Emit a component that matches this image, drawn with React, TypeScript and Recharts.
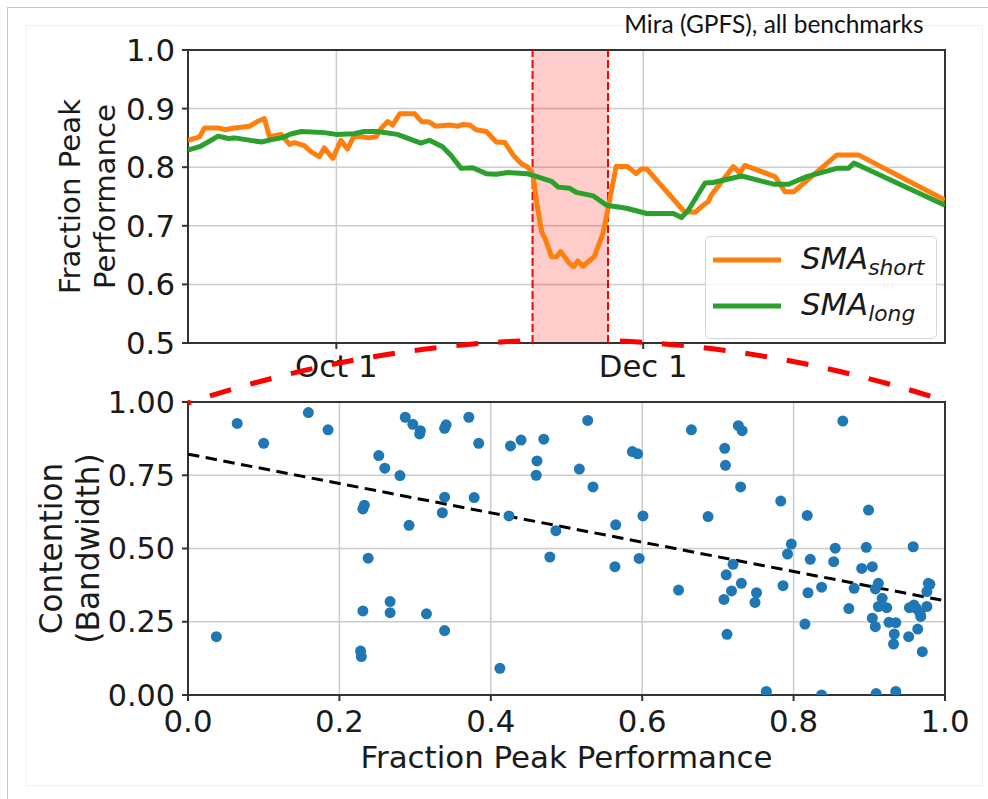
import React from 'react';
import {
  ComposedChart,
  Line,
  Scatter,
  XAxis,
  YAxis,
  CartesianGrid,
  ReferenceArea,
  ReferenceLine,
  Legend,
} from 'recharts';

// top panel: moving averages, x = days counted from Oct 1
const shortSeries: [number, number][] = [
  [-29.5, 0.846], [-28.2, 0.849], [-27.2, 0.852], [-26.2, 0.867], [-23.5, 0.867],
  [-22.2, 0.864], [-20.2, 0.867], [-17.2, 0.87], [-15.9, 0.877], [-14.3, 0.883],
  [-13.3, 0.852], [-11.0, 0.856], [-9.3, 0.839], [-8.3, 0.842], [-6.4, 0.837],
  [-5.0, 0.826], [-3.4, 0.818], [-2.4, 0.833], [-0.7, 0.815], [0.9, 0.846],
  [2.2, 0.831], [3.5, 0.853], [4.9, 0.852], [6.5, 0.85], [7.9, 0.852],
  [8.9, 0.866], [10.2, 0.878], [11.2, 0.872], [12.6, 0.891], [15.6, 0.891],
  [16.9, 0.878], [18.5, 0.877], [19.8, 0.87], [22.5, 0.872], [24.2, 0.87],
  [25.2, 0.873], [26.5, 0.872], [27.8, 0.864], [29.8, 0.861], [31.8, 0.843],
  [33.5, 0.842], [35.2, 0.82], [36.8, 0.806], [38.1, 0.8], [39.1, 0.786],
  [39.8, 0.741], [40.8, 0.69], [41.5, 0.678], [42.8, 0.647], [43.8, 0.647],
  [44.6, 0.656], [46.3, 0.636], [47.2, 0.63], [48.0, 0.64], [49.0, 0.631],
  [51.3, 0.648], [53.0, 0.687], [54.1, 0.733], [55.6, 0.801], [57.9, 0.801],
  [59.6, 0.789], [60.6, 0.797], [61.7, 0.797], [69.2, 0.724], [71.3, 0.723],
  [72.9, 0.735], [73.9, 0.741], [74.6, 0.753], [78.9, 0.801], [80.2, 0.79],
  [81.2, 0.803], [87.2, 0.784], [89.2, 0.758], [90.9, 0.758], [99.5, 0.821],
  [103.8, 0.821], [121, 0.744],
];

const longSeries: [number, number][] = [
  [-29.5, 0.829], [-27.2, 0.835], [-25.5, 0.843], [-23.5, 0.853], [-21.5, 0.849],
  [-20.2, 0.85], [-14.9, 0.843], [-12.9, 0.847], [-10.9, 0.85], [-8.9, 0.857],
  [-6.9, 0.861], [-2.4, 0.859], [-0.1, 0.856], [3.5, 0.857], [5.5, 0.861],
  [8.2, 0.861], [12.1, 0.856], [16.8, 0.841], [18.5, 0.846], [21.1, 0.835],
  [22.8, 0.82], [24.8, 0.798], [27.1, 0.799], [29.8, 0.789], [31.8, 0.788],
  [34.1, 0.791], [37.8, 0.789], [39.1, 0.786], [42.8, 0.776], [44.1, 0.766],
  [46.4, 0.764], [47.7, 0.757], [51.1, 0.751], [53.7, 0.735], [57.7, 0.73],
  [61.7, 0.721], [67.0, 0.721], [68.6, 0.714], [70.0, 0.727], [73.3, 0.773],
  [74.9, 0.774], [80.6, 0.785], [86.9, 0.771], [89.9, 0.771], [93.5, 0.784],
  [99.5, 0.798], [101.8, 0.798], [102.9, 0.807], [121, 0.735],
];

const dateTicks = [0, 61];
const dateLabels = ['Oct 1', 'Dec 1'];
const dayDomain: [number, number] = [-29.5, 121];
const perfTicks = [0.5, 0.6, 0.7, 0.8, 0.9, 1.0];
const anomaly = [39, 54];
const seriesSubs = ['short', 'long'];

// bottom panel: [fraction peak performance, contention]
const points: [number, number][] = [
  [0.065, 0.927], [0.1, 0.859], [0.159, 0.964], [0.185, 0.905], [0.0375, 0.199],
  [0.287, 0.948], [0.297, 0.924], [0.307, 0.902], [0.306, 0.891], [0.252, 0.817],
  [0.26, 0.774], [0.28, 0.749], [0.233, 0.648], [0.231, 0.635], [0.292, 0.579],
  [0.238, 0.467], [0.231, 0.287], [0.267, 0.319], [0.267, 0.281], [0.315, 0.277],
  [0.228, 0.15], [0.229, 0.131],
  [0.341, 0.922], [0.339, 0.91], [0.371, 0.948], [0.384, 0.859], [0.339, 0.675],
  [0.336, 0.622], [0.378, 0.674], [0.339, 0.22], [0.412, 0.091], [0.426, 0.85],
  [0.44, 0.87], [0.47, 0.873], [0.461, 0.799], [0.46, 0.75], [0.424, 0.611],
  [0.486, 0.561], [0.478, 0.471], [0.528, 0.937], [0.517, 0.771], [0.535, 0.71],
  [0.587, 0.831], [0.594, 0.823], [0.565, 0.581], [0.601, 0.611], [0.564, 0.438],
  [0.596, 0.466], [0.648, 0.358], [0.665, 0.905],
  [0.727, 0.919], [0.732, 0.902], [0.709, 0.842], [0.71, 0.784], [0.73, 0.71],
  [0.687, 0.609], [0.783, 0.662], [0.865, 0.935], [0.818, 0.613], [0.899, 0.631],
  [0.797, 0.515], [0.792, 0.481], [0.72, 0.446], [0.711, 0.41], [0.731, 0.381],
  [0.718, 0.355], [0.708, 0.326], [0.751, 0.349], [0.749, 0.316], [0.712, 0.207],
  [0.786, 0.373], [0.822, 0.463], [0.819, 0.349], [0.837, 0.368], [0.815, 0.242],
  [0.855, 0.501], [0.853, 0.455], [0.896, 0.504], [0.89, 0.432], [0.904, 0.438],
  [0.88, 0.364], [0.873, 0.295], [0.912, 0.381], [0.908, 0.362], [0.917, 0.33],
  [0.912, 0.302], [0.923, 0.298], [0.904, 0.262], [0.908, 0.233], [0.926, 0.248],
  [0.935, 0.247], [0.933, 0.208], [0.932, 0.174], [0.958, 0.506], [0.978, 0.381],
  [0.98, 0.378], [0.976, 0.353], [0.953, 0.298], [0.962, 0.296], [0.967, 0.279],
  [0.976, 0.302], [0.968, 0.268], [0.964, 0.225], [0.952, 0.199], [0.97, 0.148],
  [0.959, 0.307],
  [0.764, 0.012], [0.837, 0.0], [0.909, 0.005], [0.935, 0.012],
];

const fitX = [0, 0.995];
const fitY = [0.822, 0.324];
const fracTicks = [0, 0.2, 0.4, 0.6, 0.8, 1.0];
const contTicks = [0, 0.25, 0.5, 0.75, 1.0];

const ORANGE = '#ff7f0e';
const GREEN = '#2ca02c';
const BLUE = '#1f77b4';
const SPINE = '#333333';
const GRID = '#cccccc';
const INK = '#1a1a1a';
const FONT = 'DejaVu Sans';

const shortData = shortSeries.map(([day, v]) => ({ day, v }));
const longData = longSeries.map(([day, v]) => ({ day, v }));
const scatterData = points.map(([x, y]) => ({ x, y }));
const fitData = fitX.map((x, i) => ({ x, y: fitY[i] }));

const tickStyle = (size: number) => ({ fill: INK, fontSize: size, fontFamily: FONT });
const tickLine = { stroke: SPINE, strokeWidth: 2 };

function SideTitle({ viewBox, lines, xs, size }: any) {
  const cy = viewBox.y + viewBox.height / 2;
  return (
    <g>
      {lines.map((t: string, i: number) => (
        <text
          key={t}
          x={xs[i]}
          y={cy}
          transform={`rotate(-90 ${xs[i]} ${cy})`}
          textAnchor="middle"
          dominantBaseline="central"
          fill={INK}
          style={{ fontFamily: FONT, fontSize: size }}
        >
          {t}
        </text>
      ))}
    </g>
  );
}

function BottomTitle({ viewBox, text, dy, size }: any) {
  return (
    <text
      x={viewBox.x + viewBox.width / 2}
      y={viewBox.y + dy}
      textAnchor="middle"
      fill={INK}
      style={{ fontFamily: FONT, fontSize: size }}
    >
      {text}
    </text>
  );
}

function LegendBox() {
  const colors = [ORANGE, GREEN];
  return (
    <div
      style={{
        width: 232,
        height: 103,
        boxSizing: 'border-box',
        border: '1.5px solid #d6d6d6',
        borderRadius: 5,
        background: 'rgba(255,255,255,0.8)',
      }}
    >
      <svg width={230} height={100} style={{ display: 'block' }}>
        {seriesSubs.map((sub, i) => (
          <g key={sub}>
            <line x1={7} x2={75} y1={23 + i * 46} y2={23 + i * 46} stroke={colors[i]} strokeWidth={5} />
            <text x={95} y={32 + i * 46} fill={INK} style={{ fontFamily: FONT, fontStyle: 'oblique', fontSize: 30.8 }}>
              SMA
              <tspan dy={6} style={{ fontSize: 21.8 }}>{sub}</tspan>
            </text>
          </g>
        ))}
      </svg>
    </div>
  );
}

export default function App() {
  return (
    <div style={{ position: 'absolute', left: 0, top: 0, width: 988, height: 799, background: '#fff' }}>
      {/* slide frame */}
      <div style={{ position: 'absolute', left: 7, top: 7, width: 981, height: 792, borderLeft: '1px solid #c8c8c8', borderTop: '1px solid #c8c8c8' }} />
      <div style={{ position: 'absolute', left: 26, top: 25, width: 955, height: 759, border: '1px solid #f0f0f0' }} />

      <div style={{ position: 'absolute', left: 0, top: 0 }}>
        <ComposedChart width={988} height={400} margin={{ top: 50, right: 43, bottom: 27, left: 0 }}>
          <CartesianGrid stroke={GRID} strokeWidth={1.5} />
          <XAxis
            type="number"
            dataKey="day"
            domain={dayDomain}
            ticks={dateTicks}
            interval={0}
            allowDataOverflow
            tickFormatter={(d: number) => dateLabels[dateTicks.indexOf(d)] ?? ''}
            height={30}
            tickSize={6}
            tickMargin={6}
            axisLine={false}
            tickLine={tickLine}
            tick={tickStyle(30.8)}
          />
          <YAxis
            type="number"
            domain={[0.5, 1]}
            ticks={perfTicks}
            interval={0}
            allowDataOverflow
            tickFormatter={(v: number) => v.toFixed(1)}
            width={188}
            tickSize={6}
            tickMargin={7}
            axisLine={false}
            tickLine={tickLine}
            tick={tickStyle(30.8)}
            label={{
              content: (p: any) => (
                <SideTitle viewBox={p.viewBox} lines={['Fraction Peak', 'Performance']} xs={[70, 105]} size={29.2} />
              ),
            }}
          />
          <ReferenceArea x1={anomaly[0]} x2={anomaly[1]} y1={0.5} y2={1} fill="#ff0000" fillOpacity={0.2} stroke="none" />
          <ReferenceLine x={anomaly[0]} stroke="#ff0000" strokeWidth={2} strokeDasharray="8 3" />
          <ReferenceLine x={anomaly[1]} stroke="#ff0000" strokeWidth={2} strokeDasharray="8 3" />
          <Line
            data={shortData}
            dataKey="v"
            stroke={ORANGE}
            strokeWidth={5}
            strokeLinejoin="round"
            dot={false}
            activeDot={false}
            isAnimationActive={false}
          />
          <Line
            data={longData}
            dataKey="v"
            stroke={GREEN}
            strokeWidth={5}
            strokeLinejoin="round"
            dot={false}
            activeDot={false}
            isAnimationActive={false}
          />
          <ReferenceArea x1={dayDomain[0]} x2={dayDomain[1]} y1={0.5} y2={1} fill="none" stroke={SPINE} strokeWidth={2} />
          <Legend
            layout="horizontal"
            verticalAlign="middle"
            align="center"
            wrapperStyle={{ left: 705, top: 236, width: 232, height: 103 }}
            content={() => <LegendBox />}
          />
        </ComposedChart>
      </div>

      <div style={{ position: 'absolute', left: 0, top: 380 }}>
        <ComposedChart width={988} height={420} margin={{ top: 22, right: 43, bottom: 55, left: 0 }}>
          <CartesianGrid stroke={GRID} strokeWidth={1.5} />
          <XAxis
            type="number"
            dataKey="x"
            domain={[0, 1]}
            ticks={fracTicks}
            interval={0}
            allowDataOverflow
            tickFormatter={(v: number) => v.toFixed(1)}
            height={50}
            tickSize={6}
            tickMargin={9}
            axisLine={false}
            tickLine={tickLine}
            tick={tickStyle(30.8)}
            label={{
              content: (p: any) => (
                <BottomTitle viewBox={p.viewBox} text="Fraction Peak Performance" dy={73} size={30.9} />
              ),
            }}
          />
          <YAxis
            type="number"
            dataKey="y"
            domain={[0, 1]}
            ticks={contTicks}
            interval={0}
            allowDataOverflow
            tickFormatter={(v: number) => v.toFixed(2)}
            width={188}
            tickSize={6}
            tickMargin={7}
            axisLine={false}
            tickLine={tickLine}
            tick={tickStyle(30.2)}
            label={{
              content: (p: any) => (
                <SideTitle viewBox={p.viewBox} lines={['Contention', '(Bandwidth)']} xs={[51, 88]} size={31.2} />
              ),
            }}
          />
          <Scatter
            data={scatterData}
            dataKey="y"
            fill={BLUE}
            isAnimationActive={false}
            shape={(p: any) => <circle cx={p.cx} cy={p.cy} r={5.5} fill={BLUE} />}
          />
          <Line
            data={fitData}
            dataKey="y"
            stroke="#000"
            strokeWidth={3}
            strokeDasharray="11.5 6.5"
            dot={false}
            activeDot={false}
            isAnimationActive={false}
          />
          <ReferenceArea x1={0} x2={1} y1={0} y2={1} fill="none" stroke={SPINE} strokeWidth={2} />
        </ComposedChart>
      </div>

      {/* zoom indicator and caption */}
      <svg width={988} height={799} style={{ position: 'absolute', left: 0, top: 0, pointerEvents: 'none' }}>
        <text x={774} y={33} textAnchor="middle" fill="#111" style={{ fontFamily: 'Lato', fontSize: 24.5 }}>
          Mira (GPFS), all benchmarks
        </text>
        <g fill="none" stroke="#ff0000" strokeWidth={5}>
          <path d="M188,403 Q354.5,348.1 521,341" strokeDasharray="22 20" strokeDashoffset={19} />
          <path d="M620,341.1 Q777.5,347.9 935,397.6" strokeDasharray="22 20" />
        </g>
      </svg>
    </div>
  );
}
